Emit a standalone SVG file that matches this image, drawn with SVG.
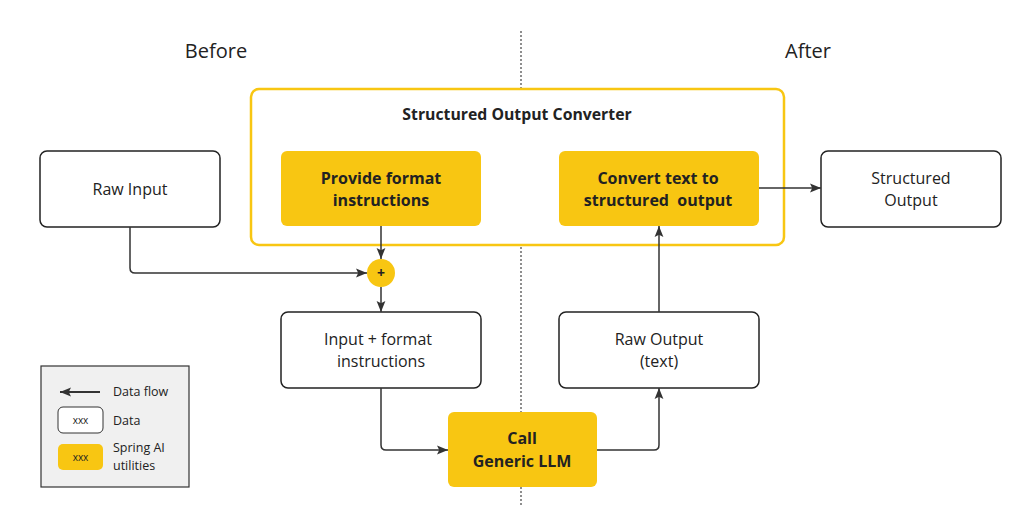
<svg xmlns="http://www.w3.org/2000/svg" width="1036" height="528" viewBox="0 0 1036 528">
<defs>
<style>
text{font-family:"Open Sans","Liberation Sans",sans-serif;fill:#222;text-anchor:middle}
.data{fill:#fff;stroke:#222;stroke-width:1.5}
.util{fill:#F8C612;stroke:none}
.t{font-size:16px}
.b{font-size:16px;font-weight:bold}
.h{font-size:20px}
.conn{fill:none;stroke:#333;stroke-width:1.5}
.lg{font-size:12.5px;text-anchor:start}
</style>
<marker id="ah" viewBox="0 0 10 10" refX="10" refY="5" markerWidth="11" markerHeight="11" markerUnits="userSpaceOnUse" orient="auto">
<path d="M0,1 L10,5 L0,9 L2,5 Z" fill="#333"/>
</marker>
</defs>
<rect width="1036" height="528" fill="#fff"/>
<line x1="521" y1="31" x2="521" y2="505" stroke="#444" stroke-width="1.2" stroke-dasharray="2,2"/>
<text class="h" x="216" y="58">Before</text>
<text class="h" x="808" y="58">After</text>
<g id="converter">
<rect x="251" y="89" width="533" height="156" rx="8" fill="#fff" stroke="#F8C612" stroke-width="2.5"/>
<text x="517" y="120" style="font-size:15.8px;font-weight:bold">Structured Output Converter</text>
</g>
<g id="provide">
<rect class="util" x="281" y="151" width="200" height="75" rx="6"/>
<text class="b" x="381" y="184">Provide format</text>
<text class="b" x="381" y="206">instructions</text>
</g>
<g id="convert">
<rect class="util" x="559" y="151" width="200" height="75" rx="6"/>
<text class="b" x="658" y="184">Convert text to</text>
<text class="b" x="658" y="206" xml:space="preserve">structured  output</text>
</g>
<g id="rawinput">
<rect class="data" x="40" y="151" width="180" height="76" rx="7"/>
<text class="t" x="130" y="195">Raw Input</text>
</g>
<g id="structured">
<rect class="data" x="821" y="151" width="180" height="76" rx="7"/>
<text class="t" x="911" y="184">Structured</text>
<text class="t" x="911" y="206">Output</text>
</g>
<g id="plus">
<circle cx="381" cy="273" r="14" fill="#F8C612"/>
<text x="381" y="278" style="font-size:14px;font-weight:bold">+</text>
</g>
<g id="inputformat">
<rect class="data" x="281" y="312" width="200" height="76" rx="7"/>
<text class="t" x="378" y="345">Input + format</text>
<text class="t" x="381" y="367">instructions</text>
</g>
<g id="rawoutput">
<rect class="data" x="559" y="312" width="200" height="76" rx="7"/>
<text class="t" x="659" y="345">Raw Output</text>
<text class="t" x="659" y="367">(text)</text>
</g>
<g id="llm">
<rect class="util" x="448" y="412" width="149" height="75" rx="6"/>
<text class="b" x="522" y="444">Call</text>
<text class="b" x="522" y="467">Generic LLM</text>
</g>
<g id="connectors">
<path class="conn" d="M130,227 V268 Q130,273 135,273 H367" marker-end="url(#ah)"/>
<path class="conn" d="M381,226 V259" marker-end="url(#ah)"/>
<path class="conn" d="M381,287 V312" marker-end="url(#ah)"/>
<path class="conn" d="M381,388 V445 Q381,450 386,450 H448" marker-end="url(#ah)"/>
<path class="conn" d="M597,450 H654 Q659,450 659,445 V388" marker-end="url(#ah)"/>
<path class="conn" d="M659,312 V226" marker-end="url(#ah)"/>
<path class="conn" d="M759,188 H821" marker-end="url(#ah)"/>
</g>
<g id="legend">
<rect x="41" y="366" width="148" height="121" fill="#f0f0f0" stroke="#333" stroke-width="1.2"/>
<line x1="100" y1="392" x2="60" y2="392" stroke="#333" stroke-width="1.8" marker-end="url(#ah)"/>
<text class="lg" x="113" y="396">Data flow</text>
<rect x="58" y="407" width="45" height="26" rx="5" fill="#fff" stroke="#333" stroke-width="1"/>
<text x="80.5" y="424" style="font-size:10px">xxx</text>
<text class="lg" x="113" y="425">Data</text>
<rect x="58" y="444" width="45" height="26" rx="5" fill="#F8C612"/>
<text x="80.5" y="461" style="font-size:10px">xxx</text>
<text class="lg" x="113" y="452">Spring AI</text>
<text class="lg" x="113" y="470">utilities</text>
</g>
</svg>
